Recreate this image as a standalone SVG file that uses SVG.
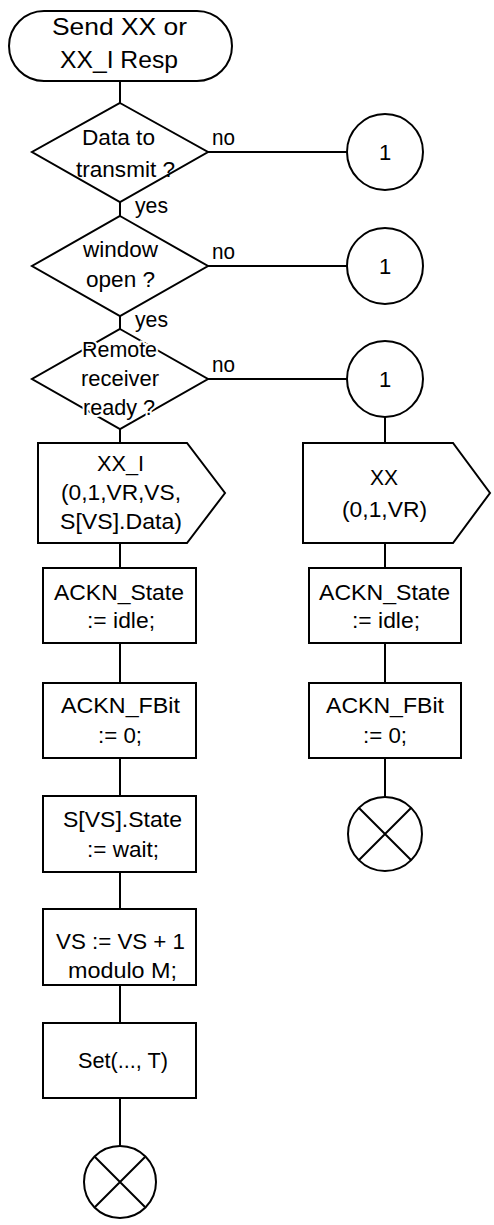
<svg xmlns="http://www.w3.org/2000/svg" width="494" height="1225" viewBox="0 0 494 1225">
<style>
.s{fill:#fff;stroke:#000;stroke-width:2}
.l{fill:none;stroke:#000;stroke-width:2}
text{font-family:"Liberation Sans",Arial,sans-serif;font-size:22px;fill:#000}
.t{font-size:24px}
.h{stroke:#fff;stroke-width:4;paint-order:stroke}
</style>
<rect width="494" height="1225" fill="#fff"/>
<g id="connectors">
<path class="l" d="M120 81V103M120 202V216M120 316V329M120 429V443M120 543V568M120 643V683M120 758V796M120 872V909M120 985V1023M120 1098V1146"/>
<path class="l" d="M208 152H347M208 266H347M208 379H347"/>
<path class="l" d="M385 417V443M385 543V568M385 643V683M385 758V797"/>
<text x="212" y="145" textLength="23" lengthAdjust="spacingAndGlyphs">no</text>
<text x="212" y="259" textLength="23" lengthAdjust="spacingAndGlyphs">no</text>
<text x="212" y="372" textLength="23" lengthAdjust="spacingAndGlyphs">no</text>
<text x="135" y="213" textLength="33" lengthAdjust="spacingAndGlyphs">yes</text>
<text x="135" y="327" textLength="33" lengthAdjust="spacingAndGlyphs">yes</text>
</g>
<g id="start">
<rect class="s" x="9" y="11" width="223" height="70" rx="35"/>
<text class="t" x="52" y="35" textLength="135" lengthAdjust="spacingAndGlyphs">Send  XX or</text>
<text class="t" x="60" y="68" textLength="118" lengthAdjust="spacingAndGlyphs">XX_I Resp</text>
</g>
<g id="d1">
<polygon class="s" points="120,103 208,152 120,202 32,152"/>
<text x="82" y="145" textLength="73" lengthAdjust="spacingAndGlyphs">Data to</text>
<text x="76" y="177" textLength="99" lengthAdjust="spacingAndGlyphs">transmit ?</text>
</g>
<g id="d2">
<polygon class="s" points="120,216 208,266 120,316 32,266"/>
<text x="83" y="257" textLength="75" lengthAdjust="spacingAndGlyphs">window</text>
<text x="86" y="287" textLength="69" lengthAdjust="spacingAndGlyphs">open ?</text>
</g>
<g id="d3">
<polygon class="s" points="120,329 208,379 120,429 32,379"/>
<text class="h" x="82" y="357" textLength="75" lengthAdjust="spacingAndGlyphs">Remote</text>
<text class="h" x="81" y="386" textLength="78" lengthAdjust="spacingAndGlyphs">receiver</text>
<text class="h" x="83" y="415" textLength="72" lengthAdjust="spacingAndGlyphs">ready ?</text>
</g>
<g id="c1">
<circle class="s" cx="385" cy="152" r="38"/>
<text x="385" y="160" text-anchor="middle">1</text>
</g>
<g id="c2">
<circle class="s" cx="385" cy="266" r="38"/>
<text x="385" y="274" text-anchor="middle">1</text>
</g>
<g id="c3">
<circle class="s" cx="385" cy="379" r="38"/>
<text x="385" y="387" text-anchor="middle">1</text>
</g>
<g id="outL">
<polygon class="s" points="38,443 187,443 225,493 187,543 38,543"/>
<text x="97" y="471" textLength="47" lengthAdjust="spacingAndGlyphs">XX_I</text>
<text x="61" y="500" textLength="120" lengthAdjust="spacingAndGlyphs">(0,1,VR,VS,</text>
<text x="60" y="529" textLength="122" lengthAdjust="spacingAndGlyphs">S[VS].Data)</text>
</g>
<g id="outR">
<polygon class="s" points="303,443 453,443 490,493 453,543 303,543"/>
<text x="370" y="485" textLength="28" lengthAdjust="spacingAndGlyphs">XX</text>
<text x="342" y="517" textLength="85" lengthAdjust="spacingAndGlyphs">(0,1,VR)</text>
</g>
<g id="ackStateL">
<rect class="s" x="43" y="568" width="153" height="75"/>
<text x="54" y="600" textLength="130" lengthAdjust="spacingAndGlyphs">ACKN_State</text>
<text x="87" y="628" textLength="68" lengthAdjust="spacingAndGlyphs">:= idle;</text>
</g>
<g id="ackStateR">
<rect class="s" x="309" y="568" width="152" height="75"/>
<text x="319" y="600" textLength="131" lengthAdjust="spacingAndGlyphs">ACKN_State</text>
<text x="352" y="628" textLength="68" lengthAdjust="spacingAndGlyphs">:= idle;</text>
</g>
<g id="ackFBitL">
<rect class="s" x="43" y="683" width="153" height="75"/>
<text x="61" y="713" textLength="119" lengthAdjust="spacingAndGlyphs">ACKN_FBit</text>
<text x="98" y="743" textLength="44" lengthAdjust="spacingAndGlyphs">:= 0;</text>
</g>
<g id="ackFBitR">
<rect class="s" x="309" y="683" width="152" height="75"/>
<text x="326" y="713" textLength="118" lengthAdjust="spacingAndGlyphs">ACKN_FBit</text>
<text x="363" y="743" textLength="44" lengthAdjust="spacingAndGlyphs">:= 0;</text>
</g>
<g id="sState">
<rect class="s" x="43" y="796" width="153" height="76"/>
<text x="63" y="827" textLength="119" lengthAdjust="spacingAndGlyphs">S[VS].State</text>
<text x="87" y="857" textLength="72" lengthAdjust="spacingAndGlyphs">:= wait;</text>
</g>
<g id="vsInc">
<rect class="s" x="43" y="909" width="153" height="76"/>
<text x="56" y="949" textLength="129" lengthAdjust="spacingAndGlyphs">VS := VS + 1</text>
<text x="68" y="978" textLength="109" lengthAdjust="spacingAndGlyphs">modulo M;</text>
</g>
<g id="setT">
<rect class="s" x="43" y="1023" width="153" height="75"/>
<text x="78" y="1068" textLength="90" lengthAdjust="spacingAndGlyphs">Set(..., T)</text>
</g>
<g id="endL">
<circle class="s" cx="120" cy="1182" r="36"/>
<path class="l" d="M95 1157L145 1207M145 1157L95 1207"/>
</g>
<g id="endR">
<circle class="s" cx="385" cy="834" r="37"/>
<path class="l" d="M359 808L411 860M411 808L359 860"/>
</g>
</svg>
